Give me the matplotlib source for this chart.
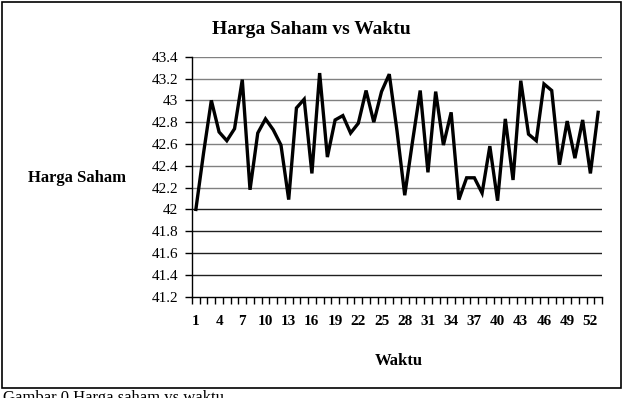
import matplotlib
matplotlib.use('Agg')
import matplotlib.pyplot as plt
from matplotlib.patches import Rectangle

# stock price per time step
waktu = list(range(1, 54))
harga = [42.00, 42.52, 43.00, 42.71, 42.63, 42.74, 43.19, 42.18, 42.70, 42.83,
         42.73, 42.59, 42.09, 42.93, 43.01, 42.33, 43.25, 42.48, 42.82, 42.86,
         42.70, 42.79, 43.09, 42.80, 43.08, 43.24, 42.72, 42.13, 42.62, 43.09,
         42.34, 43.08, 42.59, 42.89, 42.09, 42.29, 42.29, 42.15, 42.58, 42.08,
         42.83, 42.27, 43.18, 42.69, 42.63, 43.15, 43.09, 42.41, 42.81, 42.47,
         42.82, 42.33, 42.89]
y_ticks = [41.2, 41.4, 41.6, 41.8, 42, 42.2, 42.4, 42.6, 42.8, 43, 43.2, 43.4]
y_labels = ['41.2', '41.4', '41.6', '41.8', '42', '42.2', '42.4', '42.6', '42.8', '43', '43.2', '43.4']
x_ticks = list(range(1, 54, 3))

serif = ['Liberation Serif', 'DejaVu Serif']
plt.rcParams['font.family'] = serif

fig = plt.figure(figsize=(6.26, 3.98), dpi=100)
ax = fig.add_axes([192/626, 1-296.7/398, 410/626, 240/398])

# horizontal gridlines (upper ones grey, lower ones black as in the original)
for v in y_ticks[1:]:
    ax.axhline(v, color='#808080' if v > 42.1 else '#202020', lw=1.0, zorder=1)

ax.plot(waktu, harga, color='black', lw=2.4, solid_joinstyle='miter', zorder=3)

ax.set_xlim(0.5, 53.5)
ax.set_ylim(41.2, 43.4)
ax.set_yticks(y_ticks)
ax.set_yticklabels(y_labels, fontsize=11)
ax.set_xticks(x_ticks)
ax.set_xticklabels([str(t) for t in x_ticks], fontsize=11, fontweight='bold')
ax.set_xticks([b + 0.5 for b in range(0, 54)], minor=True)
ax.tick_params(axis='x', which='major', length=0, pad=13)
ax.tick_params(axis='x', which='minor', length=5, width=1, direction='out')
ax.tick_params(axis='y', length=5, width=1, direction='out', pad=5)

for s in ['top', 'right']:
    ax.spines[s].set_visible(False)
ax.spines['left'].set_linewidth(1)
ax.spines['bottom'].set_linewidth(1)

fig.text(0.498, 1-30/398, 'Harga Saham vs Waktu', ha='center', va='center',
         fontsize=14, fontweight='bold')
fig.text(77/626, 1-178/398, 'Harga Saham', ha='center', va='center',
         fontsize=12, fontweight='bold')
fig.text(399/626, 1-361/398, 'Waktu', ha='center', va='center',
         fontsize=12, fontweight='bold')
fig.text(3/626, 1-390/398, 'Gambar 0 Harga saham vs waktu', ha='left', va='top',
         fontsize=12)

# outer chart border
fig.patches.append(Rectangle((1.5/626, 1-388/398), 619/626, 386.5/398,
                             transform=fig.transFigure, fill=False,
                             edgecolor='black', lw=1.2))

fig.savefig('out.png', dpi=100)
